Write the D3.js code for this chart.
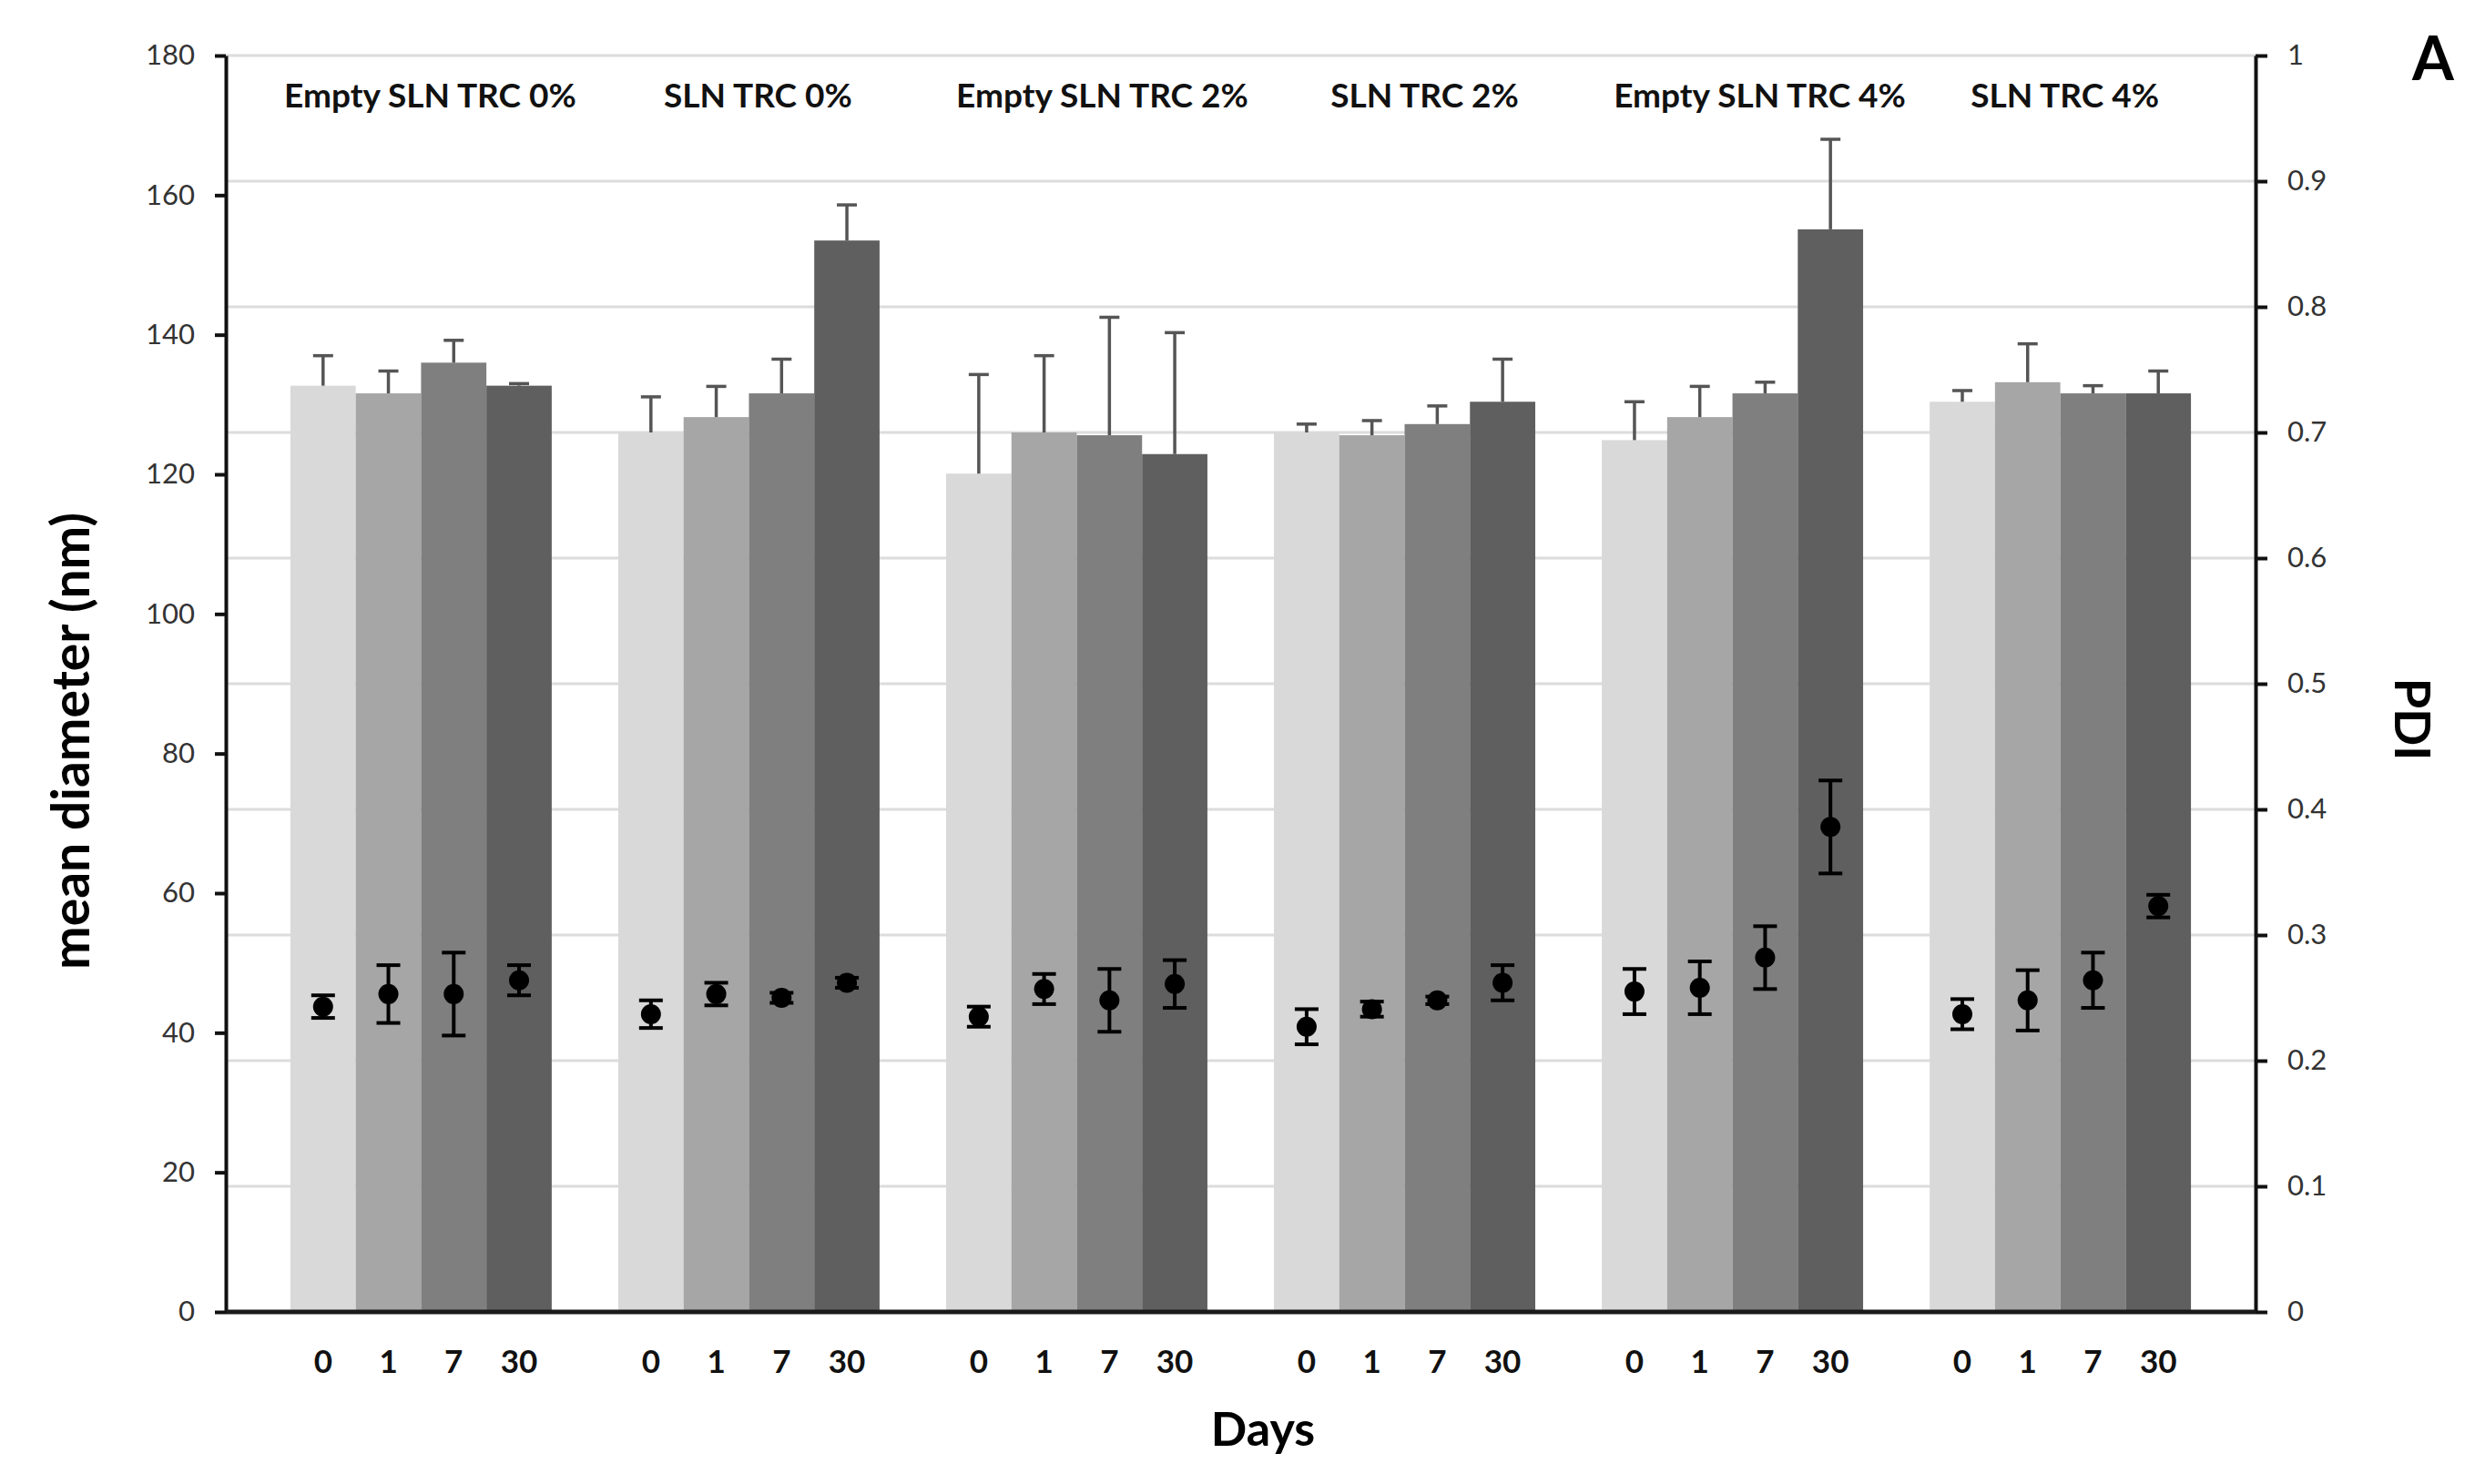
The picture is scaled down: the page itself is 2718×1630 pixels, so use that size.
<!DOCTYPE html>
<html>
<head>
<meta charset="utf-8">
<script src="https://cdn.jsdelivr.net/npm/d3@7"></script>
<style>
  body { margin: 0; background: #fff; }
  text { font-family: Lato, "Open Sans", sans-serif; }
</style>
</head>
<body>
<div id="chart"></div>
<script>
const groups = ["Empty SLN TRC 0%", "SLN TRC 0%", "Empty SLN TRC 2%", "SLN TRC 2%", "Empty SLN TRC 4%", "SLN TRC 4%"]
const days = ["0", "1", "7", "30"]

// mean diameter (nm), one array per day, in group order
const diam0  = [132.7, 126.0, 120.1, 126.0, 124.9, 130.4]
const diam1  = [131.6, 128.2, 126.0, 125.6, 128.2, 133.2]
const diam7  = [136.0, 131.6, 125.6, 127.2, 131.6, 131.6]
const diam30 = [132.7, 153.5, 122.9, 130.4, 155.1, 131.6]

const diamErr0  = [4.3, 5.1, 14.2, 1.2, 5.5, 1.6]
const diamErr1  = [3.2, 4.4, 11.0, 2.1, 4.4, 5.5]
const diamErr7  = [3.2, 4.9, 16.9, 2.6, 1.6, 1.1]
const diamErr30 = [0.3, 5.1, 17.4, 6.1, 12.9, 3.2]

// PDI
const pdi0  = [0.243, 0.237, 0.235, 0.227, 0.255, 0.237]
const pdi1  = [0.253, 0.253, 0.257, 0.241, 0.258, 0.248]
const pdi7  = [0.253, 0.250, 0.248, 0.248, 0.282, 0.264]
const pdi30 = [0.264, 0.262, 0.261, 0.262, 0.386, 0.323]

const pdiErr0  = [0.009, 0.011, 0.008, 0.014, 0.018, 0.012]
const pdiErr1  = [0.023, 0.009, 0.012, 0.006, 0.021, 0.024]
const pdiErr7  = [0.033, 0.004, 0.025, 0.003, 0.025, 0.022]
const pdiErr30 = [0.012, 0.004, 0.019, 0.014, 0.037, 0.009]

const diamTicks = [0, 20, 40, 60, 80, 100, 120, 140, 160, 180]
const pdiTicks = [0, 0.1, 0.2, 0.3, 0.4, 0.5, 0.6, 0.7, 0.8, 0.9, 1]

const palette = ['#d9d9d9', '#a6a6a6', '#7f7f7f', '#5f5f5f']

// title text boxes sit a little right of each cluster centre (layout only)
const titleShift = [10, 10, 28, 22, 30, 5]

const diam = [diam0, diam1, diam7, diam30]
const diamErr = [diamErr0, diamErr1, diamErr7, diamErr30]
const pdi = [pdi0, pdi1, pdi7, pdi30]
const pdiErr = [pdiErr0, pdiErr1, pdiErr7, pdiErr30]

const width = 2718, height = 1630
const plotL = 248, plotR = 2477, plotT = 61, plotB = 1441

const svg = d3.select("#chart").append("svg")
  .attr("width", width)
  .attr("height", height)

svg.append("rect").attr("width", width).attr("height", height).attr("fill", "#fff")

const x0 = d3.scaleBand()
  .domain(groups)
  .range([plotL, plotR])
  .paddingInner(0.203)
  .paddingOuter(0.197)

const x1 = d3.scaleBand()
  .domain(days)
  .range([0, x0.bandwidth()])

const y = d3.scaleLinear().domain([0, 180]).range([plotB, plotT])
const y2 = d3.scaleLinear().domain([0, 1]).range([plotB, plotT])

// grid follows the PDI axis
svg.append("g")
  .selectAll("line")
  .data(pdiTicks.slice(1))
  .enter()
  .append("line")
  .attr("x1", plotL).attr("x2", plotR)
  .attr("y1", d => y2(d)).attr("y2", d => y2(d))
  .attr("stroke", "#dcdcdc")
  .attr("stroke-width", 3)

// flatten into one record per bar
const rows = []
groups.forEach((g, gi) => {
  days.forEach((d, di) => {
    rows.push({group: g, day: d, di: di,
      diam: diam[di][gi], diamErr: diamErr[di][gi],
      pdi: pdi[di][gi], pdiErr: pdiErr[di][gi]})
  })
})
const cx = d => x0(d.group) + x1(d.day) + x1.bandwidth() / 2

svg.append("g")
  .selectAll("rect")
  .data(rows)
  .enter()
  .append("rect")
  .attr("x", d => x0(d.group) + x1(d.day))
  .attr("y", d => y(d.diam))
  .attr("width", x1.bandwidth())
  .attr("height", d => plotB - y(d.diam))
  .attr("fill", d => palette[d.di])

// diameter error bars (upper only)
const eb = svg.append("g").attr("stroke", "#555").attr("stroke-width", 3.5)
eb.selectAll(".stem").data(rows).enter().append("line")
  .attr("x1", cx).attr("x2", cx)
  .attr("y1", d => y(d.diam)).attr("y2", d => y(d.diam + d.diamErr))
eb.selectAll(".cap").data(rows).enter().append("line")
  .attr("x1", d => cx(d) - 11).attr("x2", d => cx(d) + 11)
  .attr("y1", d => y(d.diam + d.diamErr)).attr("y2", d => y(d.diam + d.diamErr))

// PDI points with error bars
const pb = svg.append("g").attr("stroke", "#000").attr("stroke-width", 4)
pb.selectAll(".stem").data(rows).enter().append("line")
  .attr("x1", cx).attr("x2", cx)
  .attr("y1", d => y2(d.pdi - d.pdiErr)).attr("y2", d => y2(d.pdi + d.pdiErr))
pb.selectAll(".capt").data(rows).enter().append("line")
  .attr("x1", d => cx(d) - 13).attr("x2", d => cx(d) + 13)
  .attr("y1", d => y2(d.pdi + d.pdiErr)).attr("y2", d => y2(d.pdi + d.pdiErr))
pb.selectAll(".capb").data(rows).enter().append("line")
  .attr("x1", d => cx(d) - 13).attr("x2", d => cx(d) + 13)
  .attr("y1", d => y2(d.pdi - d.pdiErr)).attr("y2", d => y2(d.pdi - d.pdiErr))
svg.append("g").selectAll("circle").data(rows).enter().append("circle")
  .attr("cx", cx)
  .attr("cy", d => y2(d.pdi))
  .attr("r", 11)
  .attr("fill", "#000")

// axes
const yAxis = svg.append("g")
  .attr("transform", "translate(" + plotL + ",0)")
  .call(d3.axisLeft(y).tickValues(diamTicks).tickSize(12).tickPadding(22).tickSizeOuter(0))
const yAxis2 = svg.append("g")
  .attr("transform", "translate(" + plotR + ",0)")
  .call(d3.axisRight(y2).tickValues(pdiTicks).tickSize(13).tickPadding(22).tickSizeOuter(0)
    .tickFormat(d => d3.format("~g")(d)))
;[yAxis, yAxis2].forEach(a => {
  a.select(".domain").attr("stroke", "#111").attr("stroke-width", 4)
  a.selectAll(".tick line").attr("stroke", "#111").attr("stroke-width", 4)
  a.selectAll(".tick text")
    .attr("fill", "#333")
    .style("font-size", "31px")
    .style("font-family", "Lato, sans-serif")
})

svg.append("line")
  .attr("x1", plotL).attr("x2", plotR)
  .attr("y1", plotB).attr("y2", plotB)
  .attr("stroke", "#1a1a1a")
  .attr("stroke-width", 5)

// day labels under each bar
svg.append("g").selectAll("text").data(rows).enter().append("text")
  .attr("x", cx)
  .attr("y", 1508)
  .attr("text-anchor", "middle")
  .style("font-size", "35px")
  .style("font-weight", "bold")
  .attr("fill", "#111")
  .text(d => d.day)

// group titles
svg.append("g").selectAll("text").data(groups).enter().append("text")
  .attr("x", (d, i) => x0(d) + x0.bandwidth() / 2 + titleShift[i])
  .attr("y", 118)
  .attr("text-anchor", "middle")
  .style("font-size", "37px")
  .style("font-weight", "bold")
  .attr("fill", "#111")
  .text(d => d)

svg.append("text")
  .attr("x", 1387).attr("y", 1588)
  .attr("text-anchor", "middle")
  .style("font-size", "52px")
  .style("font-weight", "bold")
  .text("Days")

svg.append("text")
  .attr("transform", "translate(98,814) rotate(-90)")
  .attr("text-anchor", "middle")
  .style("font-size", "57px")
  .style("font-weight", "bold")
  .text("mean diameter (nm)")

svg.append("text")
  .attr("transform", "translate(2630,790) rotate(90)")
  .attr("text-anchor", "middle")
  .style("font-size", "54px")
  .style("font-weight", "bold")
  .text("PDI")

svg.append("text")
  .attr("x", 2672).attr("y", 88)
  .attr("text-anchor", "middle")
  .style("font-size", "66px")
  .style("font-weight", "bold")
  .text("A")
</script>
</body>
</html>
